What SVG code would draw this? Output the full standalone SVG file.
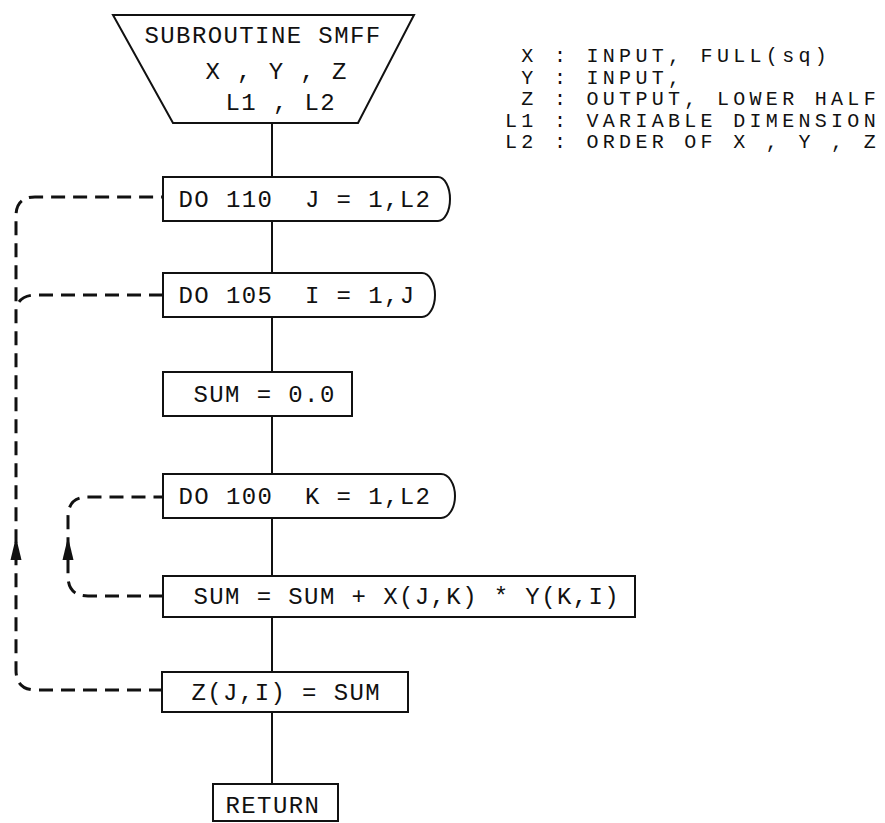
<svg xmlns="http://www.w3.org/2000/svg" width="885" height="823" viewBox="0 0 885 823">
<style>
.bg{fill:#ffffff}
.box{fill:#ffffff;stroke:#111;stroke-width:2}
.ln{fill:none;stroke:#111;stroke-width:2}
.dash{fill:none;stroke:#111;stroke-width:3;stroke-dasharray:14 8}
.t{font-family:"Liberation Mono","DejaVu Sans Mono",monospace;font-size:24px;letter-spacing:1.4px;fill:#111;white-space:pre}
.lg{font-family:"Liberation Mono","DejaVu Sans Mono",monospace;font-size:20px;letter-spacing:4.3px;fill:#111;white-space:pre}
.arr{fill:#111}
</style>
<defs>
<path id="arrow" d="M0,0 L5.5,23 L-5.5,23 Z"/>
</defs>
<rect class="bg" x="0" y="0" width="885" height="823"/>

<g id="connectors">
<path class="ln" d="M272,123 V177 M272,221 V273 M272,317 V372 M272,416 V474 M272,518 V576 M272,617 V672 M272,712 V784"/>
<path class="dash" d="M163,690 H36 Q16,690 16,670 V216 Q16,197 35,197 H163"/>
<path class="dash" d="M163,295 H36 Q19,295 16,309"/>
<path class="dash" d="M163,596 H88 Q68,596 68,576 V517 Q68,497 88,497 H163"/>
<use href="#arrow" class="arr" x="16" y="537"/>
<use href="#arrow" class="arr" x="68" y="537"/>
</g>

<g id="start">
<polygon class="box" points="113,15 414,15 358,123 173,123"/>
<text class="t" x="144.5" y="43">SUBROUTINE SMFF</text>
<text class="t" x="205.5" y="79">X , Y , Z</text>
<text class="t" x="225.5" y="110">L1 , L2</text>
</g>

<g id="legend">
<text class="lg" x="505" y="62" xml:space="preserve"> X : INPUT, FULL(sq)</text>
<text class="lg" x="505" y="84" xml:space="preserve"> Y : INPUT,</text>
<text class="lg" x="505" y="105" xml:space="preserve"> Z : OUTPUT, LOWER HALF</text>
<text class="lg" x="505" y="127" xml:space="preserve">L1 : VARIABLE DIMENSION</text>
<text class="lg" x="505" y="148" xml:space="preserve">L2 : ORDER OF X , Y , Z</text>
</g>

<g id="do110">
<path class="box" d="M163,177 H438 A12,22 0 0 1 438,221 H163 Z"/>
<text class="t" x="178.5" y="207" xml:space="preserve">DO 110  J = 1,L2</text>
</g>

<g id="do105">
<path class="box" d="M163,273 H422 A13,22 0 0 1 422,317 H163 Z"/>
<text class="t" x="178.5" y="303" xml:space="preserve">DO 105  I = 1,J</text>
</g>

<g id="sum0">
<rect class="box" x="163" y="372" width="189" height="44"/>
<text class="t" x="193.5" y="402">SUM = 0.0</text>
</g>

<g id="do100">
<path class="box" d="M163,474 H441 A14,22 0 0 1 441,518 H163 Z"/>
<text class="t" x="178.5" y="504" xml:space="preserve">DO 100  K = 1,L2</text>
</g>

<g id="sumacc">
<rect class="box" x="163" y="576" width="472" height="41"/>
<text class="t" x="193.5" y="604">SUM = SUM + X(J,K) * Y(K,I)</text>
</g>

<g id="zassign">
<rect class="box" x="162" y="672" width="246" height="40"/>
<text class="t" x="191.5" y="700">Z(J,I) = SUM</text>
</g>

<g id="return">
<rect class="box" x="213" y="784" width="125" height="37"/>
<text class="t" x="225.5" y="813">RETURN</text>
</g>
</svg>
